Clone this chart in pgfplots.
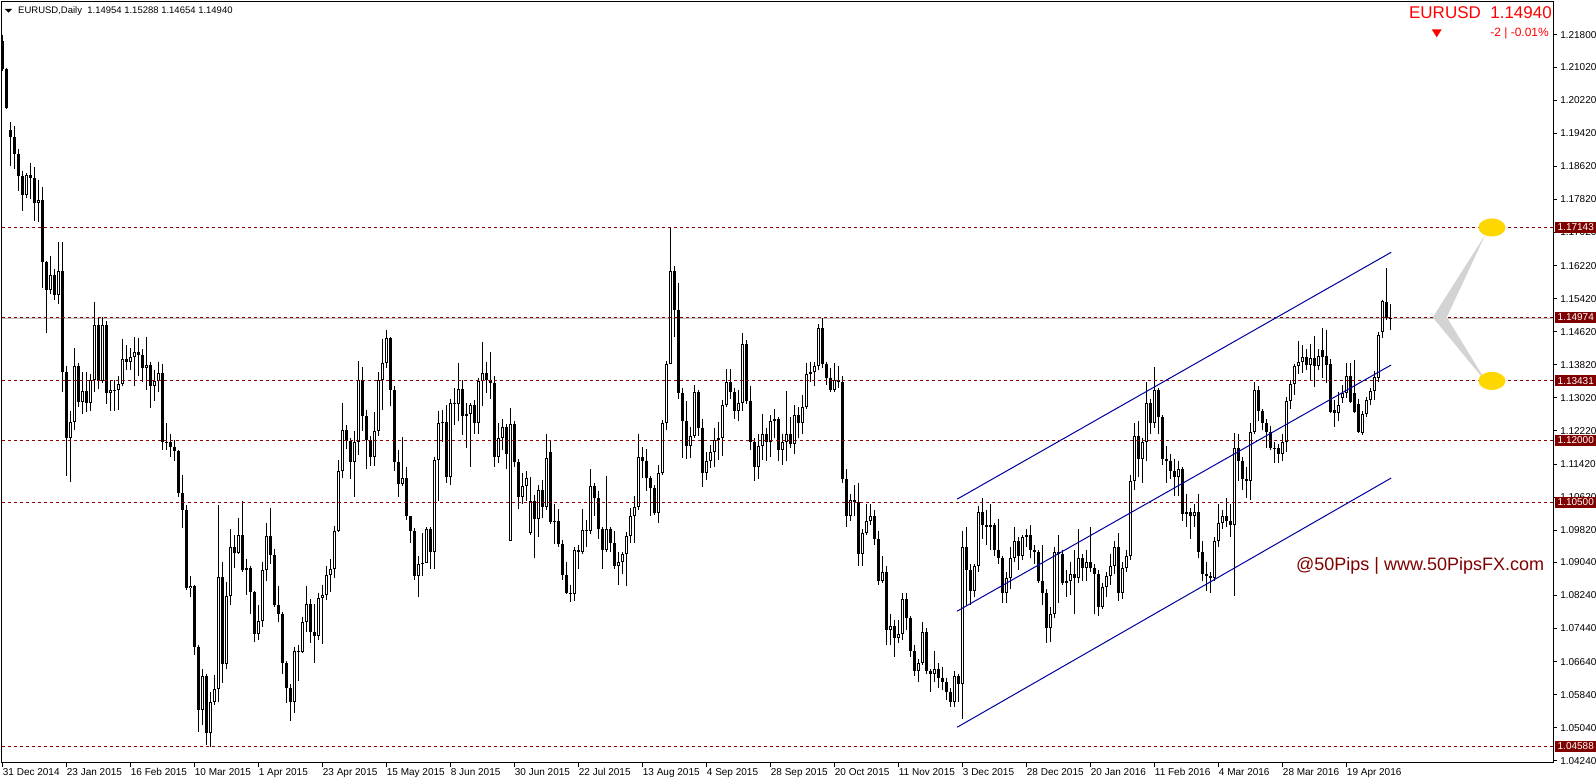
\documentclass[border=0pt]{standalone}
\usepackage{fontspec}
\setmainfont{Liberation Sans}
\usepackage{pgfplots}
\usepackage{pgfplotstable}
\pgfplotsset{compat=1.18}
\definecolor{mtred}{RGB}{128,0,0}
\definecolor{dashred}{RGB}{140,0,0}
\definecolor{chan}{RGB}{0,0,160}
\definecolor{goldy}{RGB}{255,215,0}
\definecolor{arrowgray}{RGB}{211,211,211}
\definecolor{bidgray}{RGB}{192,192,192}
\definecolor{wm}{RGB}{128,0,0}

\pgfplotstableread{
i o h l c
0 1.2165 1.2180 1.2094 1.2098
1 1.2098 1.2100 1.2000 1.2003
2 1.1950 1.1970 1.1864 1.1933
3 1.1933 1.1960 1.1855 1.1893
4 1.1893 1.1905 1.1802 1.1838
5 1.1838 1.1850 1.1755 1.1793
6 1.1793 1.1845 1.1785 1.1842
7 1.1842 1.1870 1.1783 1.1834
8 1.1834 1.1860 1.1730 1.1774
9 1.1774 1.1830 1.1728 1.1781
10 1.1781 1.1813 1.1567 1.1630
11 1.1630 1.1633 1.1460 1.1564
12 1.1564 1.1645 1.1553 1.1600
13 1.1600 1.1615 1.1540 1.1550
14 1.1550 1.1680 1.1530 1.1608
15 1.1608 1.1679 1.1316 1.1365
16 1.1365 1.1380 1.1113 1.1204
17 1.1204 1.1270 1.1098 1.1243
18 1.1243 1.1423 1.1225 1.1380
19 1.1380 1.1387 1.1280 1.1291
20 1.1291 1.1365 1.1262 1.1319
21 1.1319 1.1365 1.1268 1.1290
22 1.1290 1.1360 1.1270 1.1346
23 1.1346 1.1534 1.1317 1.1479
24 1.1479 1.1495 1.1324 1.1343
25 1.1343 1.1498 1.1337 1.1479
26 1.1479 1.1487 1.1288 1.1314
27 1.1314 1.1345 1.1270 1.1320
28 1.1320 1.1345 1.1270 1.1322
29 1.1322 1.1355 1.1272 1.1335
30 1.1335 1.1445 1.1330 1.1397
31 1.1397 1.1430 1.1370 1.1388
32 1.1388 1.1422 1.1370 1.1401
33 1.1401 1.1450 1.1330 1.1412
34 1.1412 1.1447 1.1355 1.1406
35 1.1406 1.1420 1.1340 1.1375
36 1.1375 1.1450 1.1322 1.1381
37 1.1381 1.1390 1.1277 1.1330
38 1.1330 1.1370 1.1295 1.1343
39 1.1343 1.1390 1.1316 1.1362
40 1.1362 1.1385 1.1175 1.1196
41 1.1196 1.1240 1.1177 1.1195
42 1.1195 1.1215 1.1160 1.1184
43 1.1184 1.1200 1.1150 1.1174
44 1.1174 1.1175 1.1061 1.1072
45 1.1072 1.1115 1.0988 1.1031
46 1.1031 1.1042 1.0838 1.0841
47 1.0841 1.0871 1.0820 1.0848
48 1.0848 1.0850 1.0680 1.0700
49 1.0700 1.0705 1.0494 1.0547
50 1.0547 1.0645 1.0510 1.0630
51 1.0630 1.0635 1.0462 1.0492
52 1.0492 1.0590 1.0458 1.0566
53 1.0566 1.0631 1.0558 1.0597
54 1.0597 1.1043 1.0567 1.0868
55 1.0868 1.0905 1.0613 1.0657
56 1.0657 1.0857 1.0646 1.0823
57 1.0823 1.0985 1.0800 1.0940
58 1.0940 1.0970 1.0890 1.0926
59 1.0926 1.1012 1.0925 1.0970
60 1.0970 1.1052 1.0880 1.0885
61 1.0885 1.0913 1.0824 1.0890
62 1.0890 1.0895 1.0780 1.0833
63 1.0833 1.0835 1.0712 1.0731
64 1.0731 1.0800 1.0715 1.0762
65 1.0762 1.0905 1.0748 1.0886
66 1.0886 1.1000 1.0860 1.0969
67 1.0969 1.1036 1.0900 1.0923
68 1.0923 1.0937 1.0795 1.0801
69 1.0801 1.0847 1.0760 1.0779
70 1.0779 1.0784 1.0635 1.0661
71 1.0661 1.0665 1.0564 1.0600
72 1.0600 1.0610 1.0520 1.0565
73 1.0565 1.0700 1.0540 1.0690
74 1.0690 1.0705 1.0617 1.0687
75 1.0687 1.0772 1.0684 1.0760
76 1.0760 1.0848 1.0735 1.0803
77 1.0803 1.0815 1.0708 1.0735
78 1.0735 1.0803 1.0660 1.0727
79 1.0727 1.0830 1.0716 1.0818
80 1.0818 1.0850 1.0706 1.0826
81 1.0826 1.0895 1.0814 1.0873
82 1.0873 1.0912 1.0833 1.0887
83 1.0887 1.0991 1.0865 1.0979
84 1.0979 1.1152 1.0977 1.1125
85 1.1125 1.1290 1.1109 1.1224
86 1.1224 1.1236 1.1178 1.1197
87 1.1197 1.1206 1.1106 1.1148
88 1.1148 1.1221 1.1063 1.1195
89 1.1195 1.1391 1.1164 1.1346
90 1.1346 1.1377 1.1222 1.1257
91 1.1257 1.1273 1.1130 1.1201
92 1.1201 1.1210 1.1138 1.1158
93 1.1158 1.1267 1.1136 1.1221
94 1.1221 1.1364 1.1210 1.1345
95 1.1345 1.1445 1.1272 1.1387
96 1.1387 1.1467 1.1374 1.1447
97 1.1447 1.1449 1.1282 1.1320
98 1.1320 1.1330 1.1124 1.1146
99 1.1146 1.1176 1.1063 1.1093
100 1.1093 1.1207 1.1089 1.1108
101 1.1108 1.1134 1.1007 1.1016
102 1.1016 1.1016 1.0950 1.0980
103 1.0980 1.0988 1.0861 1.0871
104 1.0871 1.0920 1.0819 1.0901
105 1.0901 1.0974 1.0871 1.0903
106 1.0903 1.0989 1.0902 1.0985
107 1.0985 1.0990 1.0887 1.0928
108 1.0928 1.1160 1.0888 1.1151
109 1.1151 1.1271 1.1052 1.1242
110 1.1242 1.1272 1.1195 1.1243
111 1.1243 1.1284 1.1097 1.1110
112 1.1110 1.1300 1.1090 1.1290
113 1.1290 1.1325 1.1237 1.1287
114 1.1287 1.1386 1.1247 1.1324
115 1.1324 1.1345 1.1213 1.1259
116 1.1259 1.1290 1.1180 1.1264
117 1.1264 1.1290 1.1135 1.1284
118 1.1284 1.1298 1.1215 1.1242
119 1.1242 1.1351 1.1215 1.1343
120 1.1343 1.1436 1.1282 1.1362
121 1.1362 1.1389 1.1313 1.1346
122 1.1346 1.1412 1.1300 1.1338
123 1.1338 1.1355 1.1134 1.1160
124 1.1160 1.1241 1.1145 1.1204
125 1.1204 1.1250 1.1176 1.1232
126 1.1232 1.1238 1.1130 1.1167
127 1.0955 1.1278 1.0955 1.1238
128 1.1238 1.1245 1.1134 1.1146
129 1.1146 1.1153 1.1033 1.1061
130 1.1061 1.1120 1.1045 1.1088
131 1.1088 1.1124 1.1053 1.1109
132 1.0975 1.1110 1.0970 1.1053
133 1.1053 1.1068 1.0915 1.1010
134 1.1010 1.1090 1.0966 1.1080
135 1.1080 1.1104 1.1012 1.1039
136 1.1039 1.1215 1.1030 1.1156
137 1.1170 1.1200 1.0997 1.1002
138 1.1002 1.1045 1.0949 1.1004
139 1.1004 1.1033 1.0942 1.0948
140 1.0948 1.0959 1.0861 1.0873
141 1.0873 1.0905 1.0827 1.0830
142 1.0830 1.0850 1.0808 1.0827
143 1.0827 1.0942 1.0810 1.0935
144 1.0935 1.0945 1.0888 1.0930
145 1.0930 1.1034 1.0925 1.0983
146 1.0983 1.1007 1.0941 1.0980
147 1.0980 1.1129 1.0973 1.1088
148 1.1088 1.1095 1.1017 1.1060
149 1.1060 1.1076 1.0960 1.0985
150 1.0985 1.0990 1.0887 1.0935
151 1.0935 1.1113 1.0930 1.0985
152 1.0985 1.0990 1.0930 1.0950
153 1.0950 1.0980 1.0888 1.0895
154 1.0895 1.0930 1.0850 1.0906
155 1.0906 1.0930 1.0875 1.0924
156 1.0924 1.0978 1.0847 1.0968
157 1.0968 1.1035 1.0950 1.1016
158 1.1016 1.1065 1.0950 1.1039
159 1.1039 1.1214 1.1030 1.1158
160 1.1158 1.1182 1.1107 1.1150
161 1.1150 1.1178 1.1077 1.1107
162 1.1107 1.1114 1.1017 1.1083
163 1.1083 1.1090 1.1018 1.1024
164 1.1024 1.1140 1.1000 1.1120
165 1.1120 1.1248 1.1115 1.1240
166 1.1240 1.1392 1.1225 1.1385
167 1.1385 1.1714 1.1385 1.1610
168 1.1610 1.1620 1.1450 1.1515
169 1.1515 1.1580 1.1300 1.1314
170 1.1314 1.1327 1.1157 1.1245
171 1.1245 1.1295 1.1155 1.1185
172 1.1185 1.1231 1.1157 1.1210
173 1.1210 1.1332 1.1205 1.1315
174 1.1315 1.1320 1.1210 1.1230
175 1.1230 1.1250 1.1087 1.1120
176 1.1120 1.1170 1.1103 1.1150
177 1.1150 1.1187 1.1132 1.1170
178 1.1170 1.1230 1.1135 1.1200
179 1.1200 1.1243 1.1152 1.1205
180 1.1205 1.1297 1.1162 1.1285
181 1.1285 1.1372 1.1279 1.1340
182 1.1340 1.1372 1.1300 1.1315
183 1.1315 1.1327 1.1252 1.1270
184 1.1270 1.1320 1.1245 1.1290
185 1.1290 1.1460 1.1270 1.1432
186 1.1432 1.1442 1.1287 1.1295
187 1.1295 1.1330 1.1177 1.1195
188 1.1195 1.1205 1.1100 1.1135
189 1.1135 1.1215 1.1105 1.1185
190 1.1185 1.1262 1.1152 1.1215
191 1.1215 1.1230 1.1150 1.1195
192 1.1195 1.1260 1.1160 1.1245
193 1.1245 1.1275 1.1205 1.1250
194 1.1250 1.1255 1.1150 1.1175
195 1.1175 1.1215 1.1140 1.1195
196 1.1195 1.1318 1.1150 1.1215
197 1.1215 1.1255 1.1180 1.1190
198 1.1190 1.1285 1.1165 1.1260
199 1.1260 1.1280 1.1205 1.1240
200 1.1240 1.1310 1.1215 1.1280
201 1.1280 1.1387 1.1275 1.1360
202 1.1360 1.1390 1.1340 1.1365
203 1.1365 1.1388 1.1330 1.1380
204 1.1380 1.1480 1.1370 1.1470
205 1.1470 1.1495 1.1375 1.1385
206 1.1385 1.1390 1.1332 1.1350
207 1.1350 1.1375 1.1315 1.1320
208 1.1320 1.1386 1.1315 1.1345
209 1.1345 1.1380 1.1325 1.1340
210 1.1340 1.1355 1.1095 1.1105
211 1.1105 1.1130 1.0990 1.1015
212 1.1015 1.1070 1.1005 1.1055
213 1.1055 1.1090 1.1015 1.1050
214 1.1050 1.1095 1.0895 1.0925
215 1.0925 1.0985 1.0895 1.0975
216 1.0975 1.1045 1.0970 1.1005
217 1.1005 1.1045 1.0995 1.1015
218 1.1015 1.1030 1.0945 1.0960
219 1.0960 1.0980 1.0850 1.0860
220 1.0860 1.0920 1.0855 1.0880
221 1.0880 1.0895 1.0705 1.0740
222 1.0740 1.0780 1.0705 1.0750
223 1.0750 1.0765 1.0675 1.0720
224 1.0720 1.0765 1.0710 1.0730
225 1.0730 1.0830 1.0715 1.0815
226 1.0815 1.0830 1.0740 1.0770
227 1.0770 1.0775 1.0675 1.0690
228 1.0690 1.0705 1.0630 1.0640
229 1.0640 1.0670 1.0615 1.0660
230 1.0660 1.0760 1.0655 1.0735
231 1.0735 1.0745 1.0635 1.0640
232 1.0640 1.0645 1.0590 1.0635
233 1.0635 1.0690 1.0615 1.0645
234 1.0645 1.0660 1.0600 1.0625
235 1.0625 1.0650 1.0595 1.0615
236 1.0615 1.0625 1.0570 1.0590
237 1.0590 1.0600 1.0555 1.0565
238 1.0565 1.0640 1.0555 1.0630
239 1.0630 1.0635 1.0565 1.0610
240 1.0610 1.0981 1.0524 1.0940
241 1.0940 1.0990 1.0800 1.0885
242 1.0885 1.0900 1.0800 1.0835
243 1.0835 1.0900 1.0820 1.0895
244 1.0895 1.1040 1.0880 1.1025
245 1.1025 1.1060 1.0960 1.0995
246 1.0995 1.1030 1.0945 1.0990
247 1.0990 1.1045 1.0935 1.0995
248 1.0995 1.1000 1.0920 1.0935
249 1.0935 1.1010 1.0900 1.0915
250 1.0915 1.0920 1.0805 1.0830
251 1.0830 1.0880 1.0805 1.0865
252 1.0865 1.0940 1.0840 1.0915
253 1.0915 1.0990 1.0905 1.0955
254 1.0955 1.0965 1.0885 1.0920
255 1.0920 1.0970 1.0910 1.0965
256 1.0965 1.0985 1.0940 1.0970
257 1.0970 1.0995 1.0915 1.0935
258 1.0935 1.0945 1.0900 1.0930
259 1.0930 1.0935 1.0855 1.0860
260 1.0860 1.0945 1.0800 1.0830
261 1.0830 1.0840 1.0710 1.0745
262 1.0745 1.0795 1.0711 1.0780
263 1.0780 1.0940 1.0770 1.0930
264 1.0930 1.0970 1.0805 1.0925
265 1.0925 1.0935 1.0850 1.0855
266 1.0855 1.0885 1.0820 1.0860
267 1.0860 1.0905 1.0825 1.0875
268 1.0875 1.0935 1.0780 1.0865
269 1.0865 1.0985 1.0855 1.0915
270 1.0915 1.0925 1.0860 1.0890
271 1.0890 1.0935 1.0860 1.0905
272 1.0905 1.0990 1.0880 1.0890
273 1.0890 1.0900 1.0780 1.0875
274 1.0875 1.0885 1.0775 1.0795
275 1.0795 1.0855 1.0790 1.0845
276 1.0845 1.0880 1.0820 1.0870
277 1.0870 1.0925 1.0850 1.0895
278 1.0895 1.0955 1.0875 1.0940
279 1.0940 1.0975 1.0810 1.0830
280 1.0830 1.0905 1.0815 1.0890
281 1.0890 1.0935 1.0880 1.0920
282 1.0920 1.1115 1.0910 1.1100
283 1.1100 1.1240 1.1080 1.1210
284 1.1210 1.1245 1.1110 1.1155
285 1.1155 1.1205 1.1095 1.1195
286 1.1195 1.1340 1.1150 1.1290
287 1.1290 1.1300 1.1215 1.1240
288 1.1240 1.1376 1.1230 1.1320
289 1.1320 1.1325 1.1215 1.1255
290 1.1255 1.1260 1.1140 1.1155
291 1.1155 1.1185 1.1095 1.1150
292 1.1150 1.1165 1.1105 1.1125
293 1.1125 1.1155 1.1065 1.1110
294 1.1110 1.1150 1.1065 1.1130
295 1.1130 1.1135 1.1005 1.1020
296 1.1020 1.1070 1.0990 1.1025
297 1.1025 1.1035 1.0960 1.1015
298 1.1015 1.1045 1.0990 1.1025
299 1.1025 1.1070 1.0915 1.0930
300 1.0930 1.0955 1.0860 1.0875
301 1.0875 1.0905 1.0835 1.0870
302 1.0870 1.0880 1.0830 1.0865
303 1.0865 1.0965 1.0860 1.0955
304 1.0955 1.1045 1.0940 1.1000
305 1.1000 1.1030 1.0985 1.1015
306 1.1015 1.1060 1.0990 1.1005
307 1.1005 1.1045 1.0965 1.0995
308 1.0995 1.1218 1.0822 1.1180
309 1.1180 1.1215 1.1100 1.1150
310 1.1150 1.1160 1.1080 1.1105
311 1.1105 1.1135 1.1060 1.1100
312 1.1100 1.1240 1.1055 1.1220
313 1.1220 1.1340 1.1215 1.1320
314 1.1320 1.1330 1.1245 1.1270
315 1.1270 1.1275 1.1225 1.1240
316 1.1240 1.1250 1.1180 1.1220
317 1.1220 1.1235 1.1175 1.1180
318 1.1180 1.1195 1.1145 1.1180
319 1.1180 1.1190 1.1145 1.1165
320 1.1165 1.1215 1.1150 1.1195
321 1.1195 1.1305 1.1170 1.1295
322 1.1295 1.1345 1.1275 1.1335
323 1.1335 1.1385 1.1310 1.1380
324 1.1380 1.1440 1.1360 1.1390
325 1.1390 1.1430 1.1361 1.1402
326 1.1402 1.1420 1.1370 1.1382
327 1.1382 1.1433 1.1345 1.1398
328 1.1399 1.1452 1.1329 1.1378
329 1.1378 1.1420 1.1370 1.1404
330 1.1418 1.1470 1.1350 1.1402
331 1.1404 1.1466 1.1337 1.1382
332 1.1383 1.1395 1.1265 1.1269
333 1.1273 1.1297 1.1232 1.1265
334 1.1265 1.1317 1.1245 1.1285
335 1.1301 1.1333 1.1290 1.1313
336 1.1313 1.1386 1.1301 1.1356
337 1.1356 1.1387 1.1289 1.1293
338 1.1313 1.1394 1.1265 1.1269
339 1.1287 1.1300 1.1217 1.1220
340 1.1216 1.1270 1.1212 1.1262
341 1.1262 1.1305 1.1255 1.1297
342 1.1297 1.1325 1.1285 1.1319
343 1.1319 1.1366 1.1297 1.1353
344 1.1349 1.1462 1.1340 1.1453
345 1.1461 1.1540 1.1448 1.1536
346 1.1535 1.1616 1.1490 1.1495
347 1.14954 1.15288 1.14654 1.14940
}\candles

\begin{document}
\begin{tikzpicture}
\fill[white] (0,0) rectangle (1596pt,784pt);
\useasboundingbox (0,0) rectangle (1596pt,784pt);
\begin{axis}[
  at={(2pt,21pt)}, anchor=south west,
  scale only axis, width=1551pt, height=761pt,
  xmin=-0.175, xmax=387.575, ymin=1.041857, ymax=1.225985,
  axis line style={black, line width=1pt},
  tick align=outside, major tick length=4pt,
  tick style={black, line width=1pt},
  xtick pos=bottom, ytick pos=right, yticklabel pos=right,
  ytick={1.04240,1.05040,1.05840,1.06640,1.07440,1.08240,1.09040,1.09820,1.10620,1.11420,1.12220,1.13020,1.13820,1.14620,1.15420,1.16220,1.17020,1.17820,1.18620,1.19420,1.20220,1.21020,1.21800},
  yticklabels={1.04240,1.05040,1.05840,1.06640,1.07440,1.08240,1.09040,1.09820,1.10620,1.11420,1.12220,1.13020,1.13820,1.14620,1.15420,1.16220,1.17020,1.17820,1.18620,1.19420,1.20220,1.21020,1.21800},
  yticklabel style={anchor=west, inner sep=0pt, xshift=3pt, font=\fontsize{10}{10}\selectfont},
  xtick={0,16,...,336},
  xticklabels={31 Dec 2014, 23 Jan 2015, 16 Feb 2015, 10 Mar 2015, 1 Apr 2015, 23 Apr 2015, 15 May 2015, 8 Jun 2015, 30 Jun 2015, 22 Jul 2015, 13 Aug 2015, 4 Sep 2015, 28 Sep 2015, 20 Oct 2015, 11 Nov 2015, 3 Dec 2015, 28 Dec 2015, 20 Jan 2016, 11 Feb 2016, 4 Mar 2016, 28 Mar 2016, 19 Apr 2016},
  xticklabel style={anchor=north west, inner sep=0pt, xshift=0pt, yshift=-1.5pt, font=\fontsize{10}{10}\selectfont},
  clip=true,
]
% bid line
\addplot[bidgray, line width=1pt, forget plot] coordinates {(-0.175,1.14940) (387.575,1.14940)};
% wicks
\addplot[draw=none, mark=none, forget plot,
  error bars/.cd, y dir=both, y explicit, error mark=none,
  error bar style={draw=black, line width=1pt}]
  table[x=i, y=h, y error plus expr=0, y error minus expr={\thisrow{h}-\thisrow{l}}] {\candles};
% bear bodies
\addplot[draw=none, mark=none, forget plot,
  restrict expr to domain={\thisrow{o}-\thisrow{c}}{0.00001:1},
  error bars/.cd, y dir=both, y explicit, error mark=none,
  error bar style={draw=black, line width=3pt}]
  table[x=i, y=o, y error plus expr=0, y error minus expr={max(\thisrow{o}-\thisrow{c},0.00025)}] {\candles};
% bull bodies outline
\addplot[draw=none, mark=none, forget plot,
  restrict expr to domain={\thisrow{c}-\thisrow{o}}{0:1},
  error bars/.cd, y dir=both, y explicit, error mark=none,
  error bar style={draw=black, line width=3pt}]
  table[x=i, y=c, y error plus expr=0, y error minus expr={max(\thisrow{c}-\thisrow{o},0.00025)}] {\candles};
% bull bodies inside
\addplot[draw=none, mark=none, forget plot,
  restrict expr to domain={\thisrow{c}-\thisrow{o}}{0.0006:1},
  error bars/.cd, y dir=both, y explicit, error mark=none,
  error bar style={draw=white, line width=1pt}]
  table[x=i, y expr={\thisrow{c}-0.000242}, y error plus expr=0, y error minus expr={\thisrow{c}-\thisrow{o}-0.000484}] {\candles};
% horizontal levels
\addplot[dashred, line width=1pt, dash pattern=on 3pt off 3pt, forget plot] coordinates {(-0.175,1.17143) (387.575,1.17143)};
\addplot[dashred, line width=1pt, dash pattern=on 3pt off 3pt, forget plot] coordinates {(-0.175,1.14974) (387.575,1.14974)};
\addplot[dashred, line width=1pt, dash pattern=on 3pt off 3pt, forget plot] coordinates {(-0.175,1.13431) (387.575,1.13431)};
\addplot[dashred, line width=1pt, dash pattern=on 3pt off 3pt, forget plot] coordinates {(-0.175,1.12000) (387.575,1.12000)};
\addplot[dashred, line width=1pt, dash pattern=on 3pt off 3pt, forget plot] coordinates {(-0.175,1.10500) (387.575,1.10500)};
\addplot[dashred, line width=1pt, dash pattern=on 3pt off 3pt, forget plot] coordinates {(-0.175,1.04588) (387.575,1.04588)};
% channel
\addplot[chan, line width=1pt, forget plot] coordinates {(238.6,1.1057) (347.1,1.16542)};
\addplot[chan, line width=1pt, forget plot] coordinates {(238.6,1.0786) (347.1,1.13816)};
\addplot[chan, line width=1pt, forget plot] coordinates {(238.6,1.0505) (347.1,1.1108)};
% projection arrow and targets
\fill[arrowgray] (axis cs:357.5,1.14970) -- (axis cs:370.6,1.16961) -- (axis cs:361.0,1.14970) -- (axis cs:371.4,1.13332) -- cycle;
\fill[goldy] (axis cs:372.3,1.17143) ellipse [x radius=13.5pt, y radius=9pt];
\fill[goldy] (axis cs:372.3,1.13431) ellipse [x radius=13.5pt, y radius=9pt];
% watermark
\node[anchor=base west, inner sep=0pt, text=wm, font=\fontsize{18}{18}\selectfont] at (axis cs:323.3,1.0884) {@50Pips | www.50PipsFX.com};
% label anchors
\coordinate (L1) at (axis cs:387.575,1.17143);
\coordinate (L2) at (axis cs:387.575,1.14974);
\coordinate (L3) at (axis cs:387.575,1.13431);
\coordinate (L4) at (axis cs:387.575,1.12000);
\coordinate (L5) at (axis cs:387.575,1.10500);
\coordinate (L6) at (axis cs:387.575,1.04588);
\end{axis}
% price level labels
\foreach \c/\t in {L1/1.17143, L2/1.14974, L3/1.13431, L4/1.12000, L5/1.10500, L6/1.04588}{
  \node[fill=mtred, text=white, anchor=west, inner sep=0pt, minimum width=41pt, minimum height=11pt, font=\fontsize{10}{10}\selectfont, xshift=2pt] at (\c) {\t};
}
% header
\fill[black] (5pt,775pt) -- (12pt,775pt) -- (8.5pt,771.3pt) -- cycle;
\node[anchor=base west, inner sep=0pt, font=\fontsize{9.5}{9.5}\selectfont] at (18pt,770pt) {EURUSD,Daily\ \ 1.14954 1.15288 1.14654 1.14940};
\node[anchor=base east, inner sep=0pt, text=red, font=\fontsize{17}{17}\selectfont] at (1552pt,765.7pt) {EURUSD\ \ 1.14940};
\node[anchor=base east, inner sep=0pt, text=red, font=\fontsize{12}{12}\selectfont] at (1549pt,747pt) {-2\ |\ -0.01\%};
\fill[red] (1431.7pt,754.7pt) -- (1441.7pt,754.7pt) -- (1436.7pt,746.7pt) -- cycle;
\end{tikzpicture}
\end{document}
